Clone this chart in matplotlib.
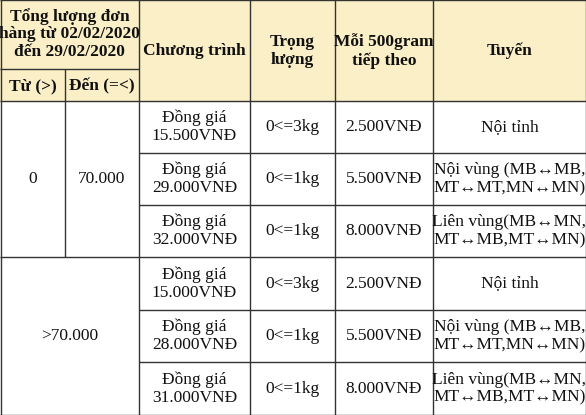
import matplotlib
matplotlib.use("Agg")
import matplotlib.pyplot as plt
from matplotlib.patches import Rectangle

col_edges = [0, 65, 139, 250, 335, 433, 586]
row_edges = [101, 153, 205, 257, 310, 362, 415]
header_main = ["Chương trình", "Trọng\nlượng", "Mỗi 500gram\ntiếp theo", "Tuyến"]
header_group = "Tổng lượng đơn\nhàng từ 02/02/2020\nđến 29/02/2020"
header_sub = ["Từ (>)", "Đến (=<)"]
group_from = ["0", ">70.000"]
group_to = ["70.000", ""]
programs = ["Đồng giá\n15.500VNĐ", "Đồng giá\n29.000VNĐ", "Đồng giá\n32.000VNĐ",
            "Đồng giá\n15.000VNĐ", "Đồng giá\n28.000VNĐ", "Đồng giá\n31.000VNĐ"]
weights = ["0<=3kg", "0<=1kg", "0<=1kg", "0<=3kg", "0<=1kg", "0<=1kg"]
extra = ["2.500VNĐ", "5.500VNĐ", "8.000VNĐ", "2.500VNĐ", "5.500VNĐ", "8.000VNĐ"]
routes = ["Nội tỉnh", "Nội vùng (MB↔MB,\nMT↔MT,MN↔MN)", "Liên vùng(MB↔MN,\nMT↔MB,MT↔MN)",
          "Nội tỉnh", "Nội vùng (MB↔MB,\nMT↔MT,MN↔MN)", "Liên vùng(MB↔MN,\nMT↔MB,MT↔MN)"]

W, H = 586, 415
fig = plt.figure(figsize=(W/100, H/100), dpi=100)
ax = fig.add_axes([0, 0, 1, 1])
ax.set_xlim(0, W); ax.set_ylim(H, 0); ax.axis("off")
FONT = ["Liberation Serif", "DejaVu Serif"]
HC = "#fbefc8"; LC = "#333333"; LW = 1.0

ax.add_patch(Rectangle((0, 0), W, 101, color=HC, zorder=0))

def line(x0, y0, x1, y1):
    ax.plot([x0, x1], [y0, y1], color=LC, lw=LW, solid_capstyle="butt")

def txt(x, y, s, bold=False, size=12.5):
    ax.text(x, y, s, ha="center", va="center", fontsize=size, family=FONT,
            fontweight="bold" if bold else "normal", linespacing=1.15, color="#111111")

# header
txt((col_edges[0]+col_edges[2])/2, 34, header_group, bold=True)
txt((col_edges[0]+col_edges[1])/2, 86, header_sub[0], bold=True)
txt((col_edges[1]+col_edges[2])/2, 86, header_sub[1], bold=True)
for i, s in enumerate(header_main):
    txt((col_edges[i+2]+col_edges[i+3])/2, 51, s, bold=True)

# body
for r in range(6):
    yc = (row_edges[r]+row_edges[r+1])/2
    txt((col_edges[2]+col_edges[3])/2, yc, programs[r])
    txt((col_edges[3]+col_edges[4])/2, yc, weights[r])
    txt((col_edges[4]+col_edges[5])/2, yc, extra[r])
    txt((col_edges[5]+col_edges[6])/2, yc, routes[r])
for g in range(2):
    yc = (row_edges[3*g]+row_edges[3*g+3])/2
    if group_to[g]:
        txt((col_edges[0]+col_edges[1])/2, yc, group_from[g])
        txt((col_edges[1]+col_edges[2])/2, yc, group_to[g])
    else:
        txt((col_edges[0]+col_edges[2])/2, yc, group_from[g])

# grid lines
line(0, 0.5, W, 0.5); line(0, H-0.5, W, H-0.5)
line(0.5, 0, 0.5, H); line(W-0.5, 0, W-0.5, H)
line(0, 69, col_edges[2], 69)
line(0, 101, W, 101)
for r in (1, 2, 4, 5):
    line(col_edges[2], row_edges[r], W, row_edges[r])
line(0, row_edges[3], W, row_edges[3])
for c in col_edges[2:-1]:
    line(c, 0, c, H)
line(col_edges[1], 69, col_edges[1], row_edges[3])

fig.savefig("out.png", dpi=100)
